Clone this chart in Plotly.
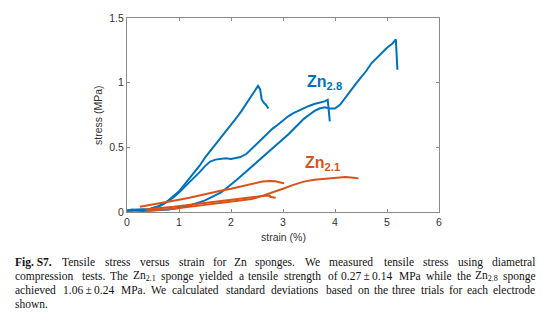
import plotly.graph_objects as go

# ---- stress-strain data (strain in %, stress in MPa) ----
# Zn2.8 sponges (three trials)
zn28_a_strain = [0, 0.1, 0.2, 0.3, 0.4, 0.5, 0.6, 0.7, 0.8, 0.9, 1.0, 1.1, 1.2, 1.3, 1.4, 1.5,
                 1.6, 1.7, 1.8, 1.9, 2.0, 2.1, 2.2, 2.3, 2.4, 2.47, 2.52, 2.56, 2.59, 2.63, 2.67, 2.72]
zn28_a_stress = [0.012, 0.02, 0.015, 0.022, 0.02, 0.03, 0.045, 0.065, 0.09, 0.125, 0.16, 0.21, 0.26,
                 0.31, 0.36, 0.42, 0.47, 0.52, 0.57, 0.62, 0.67, 0.725, 0.78, 0.84, 0.90, 0.945,
                 0.975, 0.95, 0.87, 0.845, 0.83, 0.80]

zn28_b_strain = [0, 0.1, 0.2, 0.3, 0.4, 0.5, 0.6, 0.7, 0.8, 0.9, 1.0, 1.1, 1.2, 1.3, 1.4, 1.5,
                 1.6, 1.7, 1.8, 1.9, 2.0, 2.1, 2.18, 2.3, 2.4, 2.5, 2.6, 2.7, 2.8, 2.9, 3.0, 3.1,
                 3.2, 3.3, 3.4, 3.5, 3.6, 3.7, 3.8, 3.86, 3.88, 3.9]
zn28_b_stress = [0.01, 0.015, 0.02, 0.018, 0.02, 0.028, 0.04, 0.06, 0.085, 0.115, 0.15, 0.19, 0.23,
                 0.265, 0.31, 0.355, 0.39, 0.405, 0.41, 0.415, 0.41, 0.42, 0.425, 0.45, 0.49, 0.53,
                 0.57, 0.61, 0.645, 0.675, 0.71, 0.74, 0.765, 0.785, 0.805, 0.82, 0.835, 0.845,
                 0.855, 0.868, 0.78, 0.70]

zn28_c_strain = [0, 0.1, 0.2, 0.3, 0.4, 0.5, 0.6, 0.7, 0.8, 0.9, 1.0, 1.1, 1.2, 1.3, 1.4, 1.5,
                 1.6, 1.7, 1.8, 1.9, 2.0, 2.1, 2.2, 2.3, 2.4, 2.5, 2.6, 2.7, 2.8, 2.9, 3.0, 3.1,
                 3.2, 3.3, 3.4, 3.5, 3.6, 3.7, 3.8, 3.9, 4.0, 4.1, 4.2, 4.3, 4.4, 4.5, 4.6, 4.7,
                 4.8, 4.9, 5.0, 5.1, 5.17, 5.2]
zn28_c_stress = [0.01, 0.012, 0.01, 0.008, 0.01, 0.01, 0.012, 0.015, 0.02, 0.025, 0.03, 0.04, 0.05,
                 0.06, 0.075, 0.09, 0.11, 0.13, 0.15, 0.18, 0.21, 0.245, 0.28, 0.315, 0.35, 0.385,
                 0.42, 0.455, 0.49, 0.525, 0.56, 0.60, 0.64, 0.68, 0.72, 0.75, 0.78, 0.80, 0.81,
                 0.80, 0.80, 0.83, 0.885, 0.94, 0.99, 1.04, 1.09, 1.15, 1.19, 1.23, 1.27, 1.30,
                 1.335, 1.10]

# Zn2.1 sponges (three trials)
zn21_a_strain = [0.4, 0.5, 0.6, 0.7, 0.8, 0.9, 1.0, 1.2, 1.4, 1.6, 1.8, 2.0, 2.2, 2.4, 2.6, 2.8,
                 3.0, 3.2, 3.4, 3.6, 3.8, 4.0, 4.2, 4.35, 4.45]
zn21_a_stress = [0.01, 0.012, 0.015, 0.02, 0.022, 0.025, 0.03, 0.04, 0.05, 0.06, 0.07, 0.08, 0.09,
                 0.10, 0.125, 0.15, 0.18, 0.21, 0.235, 0.25, 0.255, 0.265, 0.27, 0.265, 0.26]

zn21_b_strain = [0.25, 0.4, 0.6, 0.8, 1.0, 1.2, 1.4, 1.6, 1.8, 2.0, 2.2, 2.4, 2.6, 2.75, 2.85,
                 2.95, 3.02]
zn21_b_stress = [0.04, 0.05, 0.065, 0.08, 0.095, 0.11, 0.13, 0.15, 0.165, 0.18, 0.2, 0.22, 0.235,
                 0.24, 0.237, 0.228, 0.222]

zn21_c_strain = [0.35, 0.5, 0.7, 0.9, 1.1, 1.3, 1.5, 1.7, 1.9, 2.1, 2.3, 2.5, 2.6, 2.7, 2.76,
                 2.74, 2.8, 2.86]
zn21_c_stress = [0.02, 0.025, 0.03, 0.04, 0.05, 0.06, 0.07, 0.08, 0.09, 0.10, 0.11, 0.12, 0.125,
                 0.128, 0.126, 0.118, 0.114, 0.11]

x_ticks = [0, 1, 2, 3, 4, 5, 6]
y_ticks = [0, 0.5, 1, 1.5]
y_tick_text = ["0", "0.5", "1", "1.5"]

# caption, one list of words per justified line
PM = "\u2009\u00b1\u2009"
caption_lines = [
    ["<b>Fig. S7.</b>", "Tensile", "stress", "versus", "strain", "for", "Zn", "sponges.", "We",
     "measured", "tensile", "stress", "using", "diametral"],
    ["compression", "tests.", "The", "Zn<sub>2.1</sub>", "sponge", "yielded", "a", "tensile",
     "strength", "of", "0.27" + PM + "0.14", "MPa", "while", "the", "Zn<sub>2.8</sub>", "sponge"],
    ["achieved", "1.06" + PM + "0.24", "MPa.", "We", "calculated", "standard", "deviations",
     "based", "on", "the", "three", "trials", "for", "each", "electrode"],
]
caption_last = "shown."

BLUE = "#0072BD"
ORANGE = "#D95319"

W, H = 554, 324
PL, PR, PT, PB = 127, 439, 18, 212  # plot area edges in pixels


def px(xp):
    return (xp - PL) / (PR - PL)


def py(yp):
    return (PB - yp) / (PB - PT)


# Times-style advance widths (per 1000 em) for justifying the caption words
TW = {" ": 250, "a": 444, "b": 500, "c": 444, "d": 500, "e": 444, "f": 333, "g": 500, "h": 500,
      "i": 278, "j": 278, "k": 500, "l": 278, "m": 778, "n": 500, "o": 500, "p": 500, "q": 500,
      "r": 333, "s": 389, "t": 278, "u": 500, "v": 500, "w": 722, "x": 500, "y": 500, "z": 444,
      "A": 722, "F": 611, "M": 889, "P": 556, "S": 556, "T": 611, "W": 944, "Z": 611,
      ".": 250, "\u00b1": 549, "\u2009": 167}
for d in "0123456789":
    TW[d] = 500


def word_width(word, size):
    w = 0.0
    scale = 1.0
    i = 0
    while i < len(word):
        if word.startswith("<sub>", i):
            scale = 0.7
            i += 5
            continue
        if word.startswith("</sub>", i):
            scale = 1.0
            i += 6
            continue
        if word.startswith("<b>", i):
            i += 3
            continue
        if word.startswith("</b>", i):
            i += 4
            continue
        w += TW.get(word[i], 500) * scale
        i += 1
    return w * size / 1000 * 1.09


fig = go.Figure()
for xs, ys, c in [
    (zn28_a_strain, zn28_a_stress, BLUE),
    (zn28_b_strain, zn28_b_stress, BLUE),
    (zn28_c_strain, zn28_c_stress, BLUE),
    (zn21_a_strain, zn21_a_stress, ORANGE),
    (zn21_b_strain, zn21_b_stress, ORANGE),
    (zn21_c_strain, zn21_c_stress, ORANGE),
]:
    fig.add_trace(go.Scatter(x=xs, y=ys, mode="lines",
                             line=dict(color=c, width=2), showlegend=False,
                             hoverinfo="skip"))

axis_common = dict(showgrid=False, zeroline=False, showline=True, linecolor="#8a8a8a",
                   linewidth=1, mirror="ticks", ticks="inside", ticklen=3,
                   tickcolor="#8a8a8a", tickfont=dict(family="Liberation Sans", size=10.5,
                                                      color="#333333"))
fig.update_xaxes(range=[0, 6], tickvals=x_ticks, **axis_common)
fig.update_yaxes(range=[0, 1.5], tickvals=y_ticks, ticktext=y_tick_text, **axis_common)

ann = []
sans = "Liberation Sans"
serif = "Liberation Serif"
# axis titles
ann.append(dict(text="strain (%)", xref="paper", yref="paper", x=0.5, y=py(237),
                xanchor="center", yanchor="middle", showarrow=False,
                font=dict(family=sans, size=10.5, color="#333333")))
ann.append(dict(text="stress (MPa)", xref="paper", yref="paper", x=px(98), y=0.5,
                xanchor="center", yanchor="middle", textangle=-90, showarrow=False,
                font=dict(family=sans, size=10.5, color="#333333")))
# series labels
ann.append(dict(text="Zn<sub>2.8</sub>", x=3.42, y=1.0, xref="x", yref="y",
                xanchor="left", yanchor="middle", showarrow=False,
                font=dict(family=sans, size=16, color=BLUE, weight="bold")))
ann.append(dict(text="Zn<sub>2.1</sub>", x=3.38, y=0.375, xref="x", yref="y",
                xanchor="left", yanchor="middle", showarrow=False,
                font=dict(family=sans, size=16, color=ORANGE, weight="bold")))

# caption: justified lines between two margins
CAP_SIZE = 11.5
cap_font = dict(family=serif, size=CAP_SIZE, color="#111111")
CAP_L, CAP_R = 13, 537
line_y = [262, 276, 290]
for words, yp in zip(caption_lines, line_y):
    widths = [word_width(w_, CAP_SIZE) for w_ in words]
    gap = (CAP_R - CAP_L - sum(widths)) / (len(words) - 1)
    xcur = CAP_L
    for w_, wd in zip(words, widths):
        ann.append(dict(text=w_, xref="paper", yref="paper", x=px(xcur), y=py(yp),
                        xanchor="left", yanchor="middle", showarrow=False, font=cap_font))
        xcur += wd + gap
ann.append(dict(text=caption_last, xref="paper", yref="paper", x=px(CAP_L), y=py(304),
                xanchor="left", yanchor="middle", showarrow=False, font=cap_font))

fig.update_layout(width=W, height=H, autosize=False,
                  margin=dict(l=PL, r=W - PR, t=PT, b=H - PB, pad=0),
                  paper_bgcolor="white", plot_bgcolor="white", annotations=ann)

fig.write_html("out.html")
